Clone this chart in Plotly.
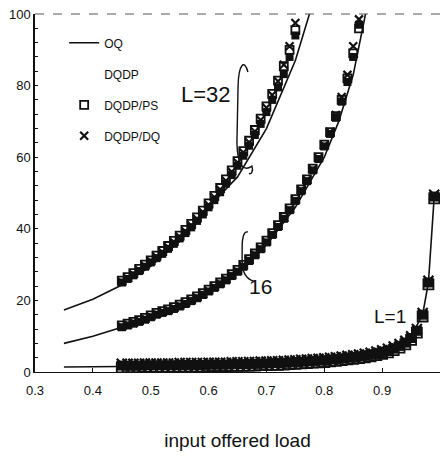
import plotly.graph_objects as go

# ---------------- data ----------------
# OQ (analytical) curves
oq32_x = [0.35, 0.40, 0.45, 0.50, 0.55, 0.60, 0.65, 0.70, 0.75, 0.78]
oq32_y = [17.3, 20.3, 24.3, 29.5, 36.5, 46.0, 54.5, 68.0, 87.0, 103.0]
oq16_x = [0.35, 0.40, 0.45, 0.50, 0.55, 0.60, 0.65, 0.70, 0.75, 0.80, 0.825, 0.85, 0.875]
oq16_y = [8.0, 10.0, 12.5, 15.3, 18.3, 22.3, 27.8, 35.5, 46.0, 60.0, 70.0, 83.0, 103.0]
oq1_x = [0.35, 0.40, 0.45, 0.50, 0.55, 0.60, 0.65, 0.70, 0.75, 0.80, 0.85, 0.90, 0.93, 0.95, 0.97, 0.98, 0.99]
oq1_y = [1.4, 1.4, 1.5, 1.6, 1.7, 1.8, 2.0, 2.2, 2.6, 3.1, 4.0, 5.5, 7.5, 10.0, 16.0, 25.0, 49.0]

# simulated loads
load32 = [0.45, 0.46, 0.47, 0.48, 0.49, 0.50, 0.51, 0.52, 0.53, 0.54, 0.55, 0.56, 0.57, 0.58, 0.59, 0.60,
          0.61, 0.62, 0.63, 0.64, 0.65, 0.66, 0.67, 0.68, 0.69, 0.70, 0.71, 0.72, 0.73, 0.74, 0.75]
load16 = [0.45, 0.46, 0.47, 0.48, 0.49, 0.50, 0.51, 0.52, 0.53, 0.54, 0.55, 0.56, 0.57, 0.58, 0.59, 0.60,
          0.61, 0.62, 0.63, 0.64, 0.65, 0.66, 0.67, 0.68, 0.69, 0.70, 0.71, 0.72, 0.73, 0.74, 0.75, 0.76,
          0.77, 0.78, 0.79, 0.80, 0.81, 0.82, 0.83, 0.84, 0.85, 0.86]
load1 = [0.45, 0.46, 0.47, 0.48, 0.49, 0.50, 0.51, 0.52, 0.53, 0.54, 0.55, 0.56, 0.57, 0.58, 0.59, 0.60,
         0.61, 0.62, 0.63, 0.64, 0.65, 0.66, 0.67, 0.68, 0.69, 0.70, 0.71, 0.72, 0.73, 0.74, 0.75, 0.76,
         0.77, 0.78, 0.79, 0.80, 0.81, 0.82, 0.83, 0.84, 0.85, 0.86, 0.87, 0.88, 0.89, 0.90, 0.91, 0.92,
         0.93, 0.94, 0.95, 0.96, 0.97, 0.98, 0.99]

dqdp32 = [25, 26, 27, 28.2, 29.4, 30.6, 31.8, 33, 34.4, 35.8, 37.3, 38.8, 40.4, 42.2, 44, 46, 48, 50.2,
          52.6, 55, 57.6, 60.4, 63.2, 66.2, 69.3, 72.6, 76, 79.5, 83.2, 88, 94]
ps32 = [25.5, 26.5, 27.6, 28.8, 30, 31.2, 32.5, 33.8, 35.2, 36.6, 38.1, 39.7, 41.4, 43.2, 45.1, 47.1,
        49.2, 51.4, 53.8, 56.3, 58.9, 61.7, 64.6, 67.6, 70.8, 74.2, 77.7, 81.4, 85.4, 90, 95.5]
dq32 = [25.2, 26.2, 27.3, 28.5, 29.7, 31, 32.2, 33.5, 34.9, 36.3, 37.8, 39.3, 41, 42.8, 44.7, 46.7,
        48.8, 51, 53.4, 55.9, 58.5, 61.3, 64.2, 67.2, 70.4, 73.8, 77.4, 81.2, 85.8, 91, 97.5]

dqdp16 = [12.5, 13, 13.5, 14, 14.6, 15.3, 16, 16.5, 17, 17.6, 18.3, 19, 19.8, 20.6, 21.5, 22.5, 23.5,
          24.5, 25.6, 26.8, 28, 29.4, 31, 32.6, 34.3, 36.2, 38.3, 40.5, 42.8, 45.2, 47.8, 50.5, 53.3,
          56.3, 59.5, 63, 66.5, 71, 75.5, 81, 88, 97]
ps16 = [13, 13.5, 14, 14.5, 15.1, 15.8, 16.5, 17, 17.5, 18.1, 18.8, 19.5, 20.3, 21.1, 22, 23, 24, 25,
        26.1, 27.3, 28.5, 29.9, 31.5, 33.1, 34.8, 36.7, 38.8, 41, 43.3, 45.7, 48.3, 51, 53.8, 56.8, 60,
        63.5, 67, 71.5, 76, 82, 89, 96]
dq16 = [12.7, 13.2, 13.7, 14.2, 14.8, 15.5, 16.2, 16.7, 17.2, 17.8, 18.5, 19.2, 20, 20.8, 21.7, 22.7,
        23.7, 24.7, 25.8, 27, 28.2, 29.6, 31.2, 32.8, 34.5, 36.4, 38.5, 40.7, 43, 45.4, 48, 50.8, 53.6,
        56.6, 59.8, 63.3, 67, 71.8, 76.8, 83, 91, 98.5]

dqdp1 = [1.8, 1.8, 1.8, 1.8, 1.9, 1.9, 1.9, 1.9, 1.9, 1.9,
         2.0, 2.0, 2.0, 2.0, 2.0, 2.1, 2.1, 2.1, 2.1, 2.2,
         2.2, 2.2, 2.3, 2.3, 2.4, 2.4, 2.5, 2.5, 2.6, 2.7,
         2.8, 2.9, 3.0, 3.1, 3.2, 3.3, 3.5, 3.6, 3.8, 4.0,
         4.2, 4.4, 4.6, 4.9, 5.2, 5.6, 6.0, 6.6, 7.3, 8.2,
         9.5, 11.5, 16, 25, 49]
ps1 = [1.3, 1.3, 1.3, 1.3, 1.4, 1.4, 1.4, 1.4, 1.4, 1.4,
       1.5, 1.5, 1.5, 1.5, 1.5, 1.6, 1.6, 1.6, 1.6, 1.7,
       1.7, 1.7, 1.8, 1.8, 1.9, 1.9, 2.0, 2.0, 2.1, 2.2,
       2.3, 2.4, 2.5, 2.6, 2.7, 2.8, 3.0, 3.1, 3.3, 3.5,
       3.7, 3.9, 4.1, 4.4, 4.7, 5.1, 5.5, 6.1, 6.8, 7.7,
       9, 11, 15.5, 24.5, 48.5]
dq1 = [2.3, 2.3, 2.3, 2.3, 2.4, 2.4, 2.4, 2.4, 2.4, 2.4,
       2.5, 2.5, 2.5, 2.5, 2.5, 2.6, 2.6, 2.6, 2.6, 2.7,
       2.7, 2.7, 2.8, 2.8, 2.9, 2.9, 3.0, 3.0, 3.1, 3.2,
       3.3, 3.4, 3.5, 3.6, 3.7, 3.8, 4.0, 4.1, 4.3, 4.5,
       4.7, 4.9, 5.1, 5.4, 5.7, 6.1, 6.5, 7.1, 7.8, 8.7,
       10, 12, 16.5, 25.5, 49.5]

x_ticks = [0.3, 0.4, 0.5, 0.6, 0.7, 0.8, 0.9]
x_tick_text = ["0.3", "0.4", "0.5", "0.6", "0.7", "0.8", "0.9"]
y_ticks = [0, 20, 40, 60, 80, 100]

FONT = "Liberation Sans Narrow, Liberation Sans, Arial, sans-serif"
INK = "#111111"

fig = go.Figure()

sim = [(load32, dqdp32, ps32, dq32, 8), (load16, dqdp16, ps16, dq16, 8), (load1, dqdp1, ps1, dq1, 10)]
for i, (lx, d, p, q, ms) in enumerate(sim):
    fig.add_trace(go.Scatter(x=lx, y=d, mode="markers", showlegend=False, legendgroup="dqdp",
                             marker=dict(symbol="square", size=ms, color=INK)))
    fig.add_trace(go.Scatter(x=lx, y=p, mode="markers", name="DQDP/PS", legendgroup="ps",
                             showlegend=(i == 0),
                             marker=dict(symbol="square-open", size=ms, color=INK, line=dict(width=1.8))))
    fig.add_trace(go.Scatter(x=lx, y=q, mode="markers", name="DQDP/DQ", legendgroup="dq",
                             showlegend=(i == 0),
                             marker=dict(symbol="x-thin-open", size=ms, color=INK, line=dict(width=2.2, color=INK))))

for i, (ox, oy) in enumerate([(oq32_x, oq32_y), (oq16_x, oq16_y), (oq1_x, oq1_y)]):
    fig.add_trace(go.Scatter(x=ox, y=oy, mode="lines", name="OQ", legendgroup="oq",
                             showlegend=(i == 0), line=dict(color=INK, width=1.6)))

# legend-only entry for DQDP (its symbol did not print in the original)
fig.add_trace(go.Scatter(x=[None], y=[None], mode="markers", name="DQDP", legendgroup="dqdp",
                         marker=dict(symbol="square", size=7, color="rgba(0,0,0,0)")))

order = {"oq": 1, "dqdp": 2, "ps": 3, "dq": 4}
for tr in fig.data:
    tr.legendrank = order[tr.legendgroup]

fig.update_layout(
    width=440, height=461,
    margin=dict(l=35, r=0, t=14, b=89),
    paper_bgcolor="white", plot_bgcolor="white",
    font=dict(family=FONT, size=13, color=INK),
    showlegend=True,
    legend=dict(x=0.072, y=0.96, xanchor="left", yanchor="top",
                bgcolor="rgba(0,0,0,0)", borderwidth=0,
                font=dict(family=FONT, size=12, color=INK),
                traceorder="grouped", tracegroupgap=12),
    xaxis=dict(range=[0.3, 1.0], tickvals=x_ticks, ticktext=x_tick_text,
               showgrid=False, zeroline=False, showline=True, linecolor=INK, linewidth=1.2,
               ticks="inside", ticklen=4, tickcolor=INK, ticklabelstandoff=6,
               title=dict(text="input offered load", font=dict(family=FONT, size=19, color=INK),
                          standoff=36)),
    yaxis=dict(range=[0, 100], tickvals=y_ticks, showgrid=False, zeroline=False,
               showline=True, linecolor=INK, linewidth=1.5,
               ticks="inside", ticklen=3, tickcolor=INK, ticklabelstandoff=0,
               ticklabeloverflow="allow",
               minor=dict(dtick=4, ticks="inside", ticklen=3, tickcolor=INK)),
)

# dashed top border from the scan
fig.add_shape(type="line", xref="paper", yref="paper", x0=0, x1=1, y0=1, y1=1,
              line=dict(color="#555555", width=1, dash="dash"))

# curve labels and hand-drawn brackets
fig.add_annotation(x=0.5955, y=77.4, text="L=32", showarrow=False,
                   font=dict(family=FONT, size=22, color=INK))
fig.add_annotation(x=0.689, y=24.0, text="16", showarrow=False,
                   font=dict(family=FONT, size=21, color=INK))
fig.add_annotation(x=0.9135, y=15.6, text="L=1", showarrow=False,
                   font=dict(family=FONT, size=19, color=INK))
fig.add_shape(type="path", xref="x", yref="y",
              path="M 0.668,83.8 C 0.662,87.5 0.652,86 0.651,80 L 0.649,64 "
                   "C 0.650,57 0.662,56 0.675,57.5 C 0.678,56 0.673,55 0.670,55.5",
              line=dict(color=INK, width=1.4))
fig.add_shape(type="path", xref="x", yref="y",
              path="M 0.668,39.1 C 0.660,39.5 0.658,37 0.658,34.9 L 0.658,31 "
                   "C 0.658,28 0.665,26 0.678,25.4",
              line=dict(color=INK, width=1.4))

fig.write_html("out.html", config={"displayModeBar": False},
               post_script="document.body.style.margin='0';")
